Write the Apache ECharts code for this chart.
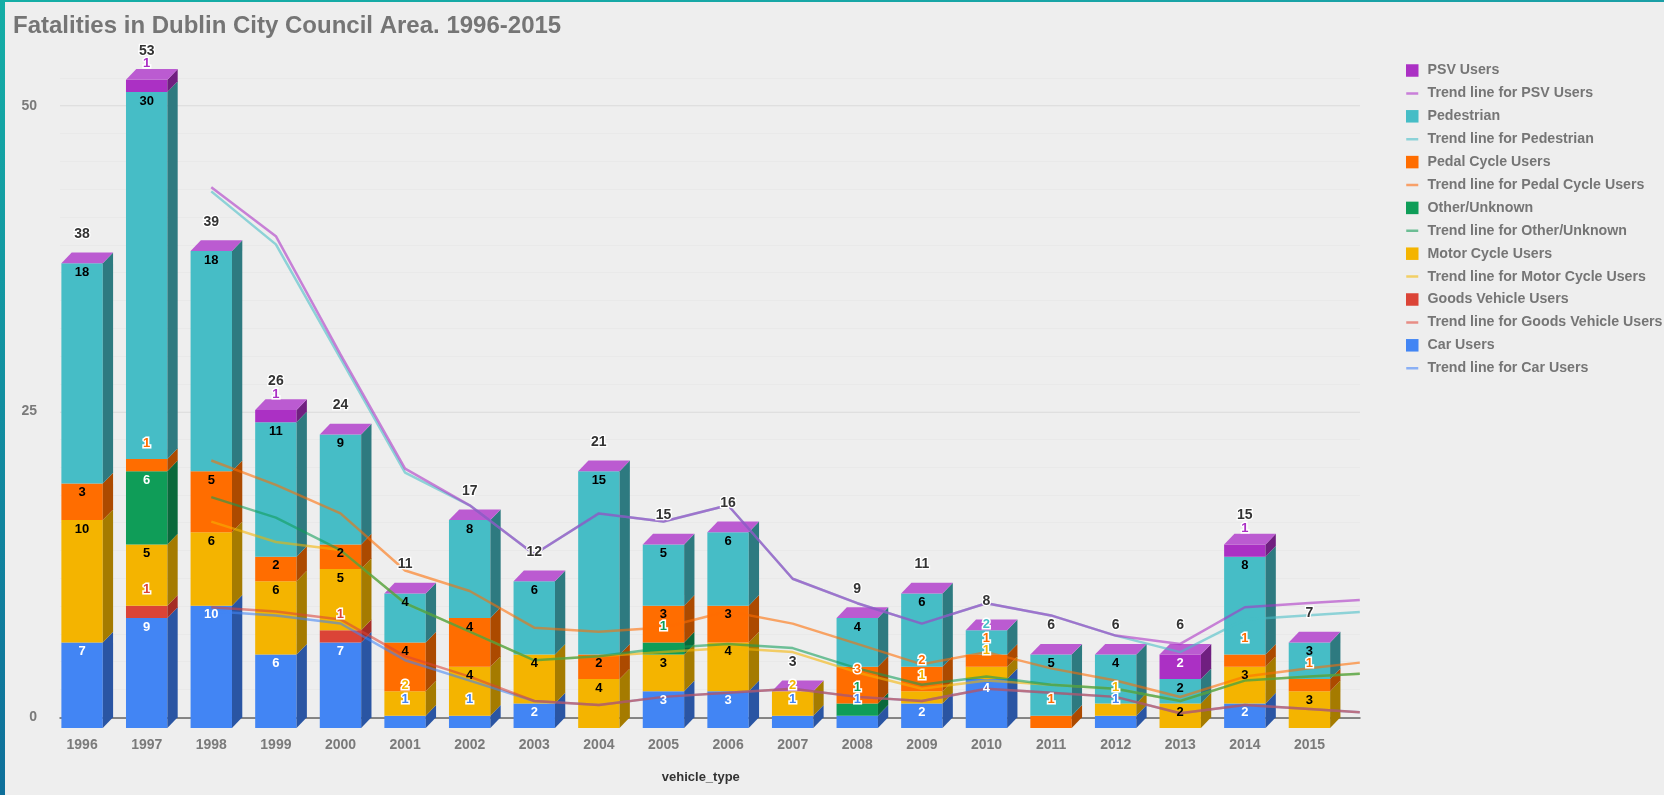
<!DOCTYPE html>
<html>
<head>
<meta charset="utf-8">
<title>Fatalities in Dublin City Council Area</title>
<script src="https://cdn.jsdelivr.net/npm/echarts@6/dist/echarts.min.js"></script>
<style>
html, body { margin: 0; height: 100%; overflow: hidden; }
body {
    background:
        linear-gradient(180deg, #14aea6, #0e6f9a) left top / 5px 100% no-repeat,
        linear-gradient(90deg, #14aea6, #1a9fa6) left top / 100% 2px no-repeat,
        #eeeeee;
}
#main { width: 1664px; height: 795px; }
</style>
</head>
<body>
<div id="main"></div>
<script>
var years = [1996, 1997, 1998, 1999, 2000, 2001, 2002, 2003, 2004, 2005, 2006, 2007, 2008, 2009, 2010, 2011, 2012, 2013, 2014, 2015];

// fatalities per year, stacked bottom to top
var carUsers     = [7, 9, 10, 6, 7, 1, 1, 2, 0, 3, 3, 1, 1, 2, 4, 0, 1, 0, 2, 0];
var goodsVehicle = [0, 1, 0, 0, 1, 0, 0, 0, 0, 0, 0, 0, 0, 0, 0, 0, 0, 0, 0, 0];
var motorCycle   = [10, 5, 6, 6, 5, 2, 4, 4, 4, 3, 4, 2, 0, 1, 1, 0, 1, 2, 3, 3];
var otherUnknown = [0, 6, 0, 0, 0, 0, 0, 0, 0, 1, 0, 0, 1, 0, 0, 0, 0, 0, 0, 0];
var pedalCycle   = [3, 1, 5, 2, 2, 4, 4, 0, 2, 3, 3, 0, 3, 2, 1, 1, 0, 0, 1, 1];
var pedestrian   = [18, 30, 18, 11, 9, 4, 8, 6, 15, 5, 6, 0, 4, 6, 2, 5, 4, 2, 8, 3];
var psvUsers     = [0, 1, 0, 1, 0, 0, 0, 0, 0, 0, 0, 0, 0, 0, 0, 0, 0, 2, 1, 0];
var totals       = [38, 53, 39, 26, 24, 11, 17, 12, 21, 15, 16, 3, 9, 11, 8, 6, 6, 6, 15, 7];

// trend lines, 1998 onward, plus where each one leaves the plot on the right
var trendYears = [1998, 1999, 2000, 2001, 2002, 2003, 2004, 2005, 2006, 2007, 2008, 2009, 2010, 2011, 2012, 2013, 2014, 2015, 2015.78];
var trendCar   = [8.67, 8.33, 7.67, 4.67, 3, 1.33, 1, 1.67, 2, 2.33, 1.67, 1.33, 2.33, 2, 1.67, 0.33, 1, 0.67, 0.42];
var trendGoods = [0.33, 0.33, 0.33, 0.33, 0.33, 0, 0, 0, 0, 0, 0, 0, 0, 0, 0, 0, 0, 0, 0];
var trendMotor = [7, 5.67, 5.67, 4.33, 3.67, 3.33, 4, 3.67, 3.67, 3, 2, 1, 0.67, 0.67, 0.67, 1, 2, 2.67, 3.15];
var trendOther = [2, 2, 0, 0, 0, 0, 0, 0.33, 0.33, 0.33, 0.33, 0.33, 0.33, 0, 0, 0, 0, 0, 0];
var trendPedal = [3, 2.67, 3, 2.67, 3.33, 2.67, 2, 1.67, 2.67, 2, 2, 1.67, 2, 1.33, 0.67, 0.33, 0.33, 0.67, 0.9];
var trendPed   = [22, 19.67, 12.67, 8, 7, 6, 9.67, 8.67, 8.67, 3.67, 3.33, 3.33, 4, 4.33, 3.67, 3.67, 4.67, 4.33, 4.13];
var trendPsv   = [0.33, 0.67, 0.33, 0.33, 0, 0, 0, 0, 0, 0, 0, 0, 0, 0, 0, 0.67, 1, 1, 1];

var yTicks = 25;
var yMinorStep = 25 / 11;
var yMax = 23 * yMinorStep;

var vehicles = [
    {name: 'Car Users', values: carUsers, trend: trendCar, color: '#4285f4', side: '#2a55a3', legendLine: '#8ab0f5', inner: '#fff'},
    {name: 'Goods Vehicle Users', values: goodsVehicle, trend: trendGoods, color: '#db4437', side: '#a52d25', legendLine: '#e78d85', inner: '#000'},
    {name: 'Motor Cycle Users', values: motorCycle, trend: trendMotor, color: '#f4b400', side: '#a57b00', legendLine: '#f2cf66', inner: '#000'},
    {name: 'Other/Unknown', values: otherUnknown, trend: trendOther, color: '#0f9d58', side: '#0a693b', legendLine: '#6cbd94', inner: '#fff'},
    {name: 'Pedal Cycle Users', values: pedalCycle, trend: trendPedal, color: '#ff6d00', side: '#ac4a00', legendLine: '#f8a068', inner: '#000'},
    {name: 'Pedestrian', values: pedestrian, trend: trendPed, color: '#46bdc6', side: '#2e7a80', legendLine: '#8bd2d8', inner: '#000'},
    {name: 'PSV Users', values: psvUsers, trend: trendPsv, color: '#ab30c4', side: '#701f80', legendLine: '#c97fd9', inner: '#fff'}
];

// labels that sit in the bar colour with a white outline even though they are not 1s
var outlined = {'Motor Cycle Users': [2001, 2007], 'Pedal Cycle Users': [2008, 2009], 'Pedestrian': [2010]};
var outlineShift = {1: -16, 2: -6, 3: 3};

var barWidth = 41.4, depthX = 10.3, depthY = 10.7;
var topFace = '#bb5bd1';

var labelFont = 'Liberation Sans, Arial, sans-serif';

function renderBlock(side) {
    return function (params, api) {
        var x = api.coord([api.value(0), 0])[0] - barWidth / 2;
        var yb = api.coord([api.value(0), api.value(1)])[1] + depthY;
        var yt = api.coord([api.value(0), api.value(2)])[1] + depthY;
        var xr = x + barWidth;
        var kids = [
            {type: 'rect', shape: {x: x, y: yt, width: barWidth, height: yb - yt}, style: {fill: api.visual('color')}},
            {type: 'polygon', shape: {points: [[xr, yb], [xr, yt], [xr + depthX, yt - depthY], [xr + depthX, yb - depthY]]}, style: {fill: side}}
        ];
        return {type: 'group', children: kids};
    };
}

function renderTop(params, api) {
    var x = api.coord([api.value(0), 0])[0] - barWidth / 2;
    var yt = api.coord([api.value(0), api.value(1)])[1] + depthY;
    return {
        type: 'polygon',
        shape: {points: [[x, yt], [x + barWidth, yt], [x + barWidth + depthX, yt - depthY], [x + depthX, yt - depthY]]},
        style: {fill: topFace}
    };
}

function renderTotal(params, api) {
    var p = api.coord([api.value(0), api.value(1)]);
    return {
        type: 'text',
        style: {
            x: p[0], y: p[1] + depthY - 29, text: String(api.value(1)), align: 'center', verticalAlign: 'middle',
            font: 'bold 14px ' + labelFont, fill: '#333', stroke: '#fff', lineWidth: 2.5
        }
    };
}

function renderSegLabel(params, api) {
    var p = api.coord([api.value(0), api.value(1)]);
    var item = labelRows[params.dataIndex];
    return {
        type: 'text',
        style: {
            x: p[0], y: p[1] + depthY + item.shift, text: String(api.value(2)), align: 'center', verticalAlign: 'middle',
            font: 'bold 13px ' + labelFont, fill: item.fill,
            stroke: item.halo ? '#fff' : null, lineWidth: item.halo ? 3 : 0
        }
    };
}

var labelRows = [];
var series = [];
var running = years.map(function () { return 0; });

vehicles.forEach(function (v) {
    var rows = [];
    var outs = outlined[v.name] || [];
    years.forEach(function (yr, i) {
        if (!v.values[i]) return;
        var top = running[i] + v.values[i];
        rows.push([yr, running[i], top]);
        var halo = v.values[i] === 1 || outs.indexOf(yr) >= 0;
        labelRows.push({
            value: [yr, top, v.values[i]],
            fill: halo ? v.color : v.inner,
            halo: halo,
            shift: halo ? outlineShift[v.values[i]] : 9
        });
        running[i] = top;
    });
    series.push({
        name: v.name, type: 'custom', z: 2, silent: true,
        itemStyle: {color: v.color},
        renderItem: renderBlock(v.side),
        data: rows
    });
});

series.push({
    name: 'topFaces', type: 'custom', z: 2, silent: true,
    renderItem: renderTop,
    data: years.map(function (yr, i) { return [yr, totals[i]]; })
});

var trendRunning = trendYears.map(function () { return 0; });
vehicles.forEach(function (v) {
    // trend lines are stacked the same way as the bars
    var pts = trendYears.map(function (yr, i) {
        trendRunning[i] += v.trend[i];
        return [yr, trendRunning[i]];
    });
    series.push({
        name: 'Trend line for ' + v.name, type: 'line', z: 3, silent: true,
        showSymbol: false, symbol: 'none',
        itemStyle: {color: v.legendLine},
        lineStyle: {color: v.color, width: 2.5, opacity: 0.58},
        data: pts
    });
});

series.push({
    name: 'segLabels', type: 'custom', z: 5, silent: true,
    renderItem: renderSegLabel,
    data: labelRows.map(function (r) { return r.value; })
});
series.push({
    name: 'totalLabels', type: 'custom', z: 5, silent: true,
    renderItem: renderTotal,
    data: years.map(function (yr, i) { return [yr, totals[i]]; })
});

var lineIcon = 'path://M0 0L1 0L0 0ZM0 5L12 5L12 7.5L0 7.5ZM0 12.5L1 12.5L0 12.5Z';
var legendData = [];
vehicles.slice().reverse().forEach(function (v) {
    legendData.push({name: v.name, icon: 'rect'});
    legendData.push({name: 'Trend line for ' + v.name, icon: lineIcon});
});

var chart = echarts.init(document.getElementById('main'), null, {renderer: 'canvas'});
chart.setOption({
    animation: false,
    backgroundColor: 'transparent',
    textStyle: {fontFamily: labelFont},
    title: {
        text: 'Fatalities in Dublin City Council Area. 1996-2015',
        left: 8, top: 9,
        textStyle: {fontFamily: labelFont, fontWeight: 'bold', fontSize: 24, color: '#757575'}
    },
    legend: {
        orient: 'vertical', left: 1401, top: 58.5,
        itemWidth: 12.5, itemHeight: 12.5, itemGap: 8.9,
        selectedMode: false,
        data: legendData,
        textStyle: {fontFamily: labelFont, fontWeight: 'bold', fontSize: 14.2, color: '#757575', padding: [0, 0, 0, 4]}
    },
    grid: [
        {left: 60, width: 1300, top: 78, height: 639.3},
        {left: 49.8, width: 1292, top: 78, height: 639.3}
    ],
    xAxis: [
        {
            type: 'value', gridIndex: 0, min: 1995.658, max: 2015.783,
            axisLine: {show: true, onZero: true, lineStyle: {color: '#666', width: 1.5}},
            axisTick: {show: false}, axisLabel: {show: false}, splitLine: {show: false}
        },
        {
            type: 'category', gridIndex: 1, data: years,
            name: 'vehicle_type', nameLocation: 'middle', nameGap: 54,
            nameTextStyle: {fontFamily: labelFont, fontWeight: 'bold', fontSize: 13, color: '#333', padding: [0, 0, 0, 10]},
            axisLine: {show: false}, axisTick: {show: false},
            axisLabel: {margin: 21, interval: 0, fontFamily: labelFont, fontWeight: 'bold', fontSize: 14, color: '#7a7a7a'}
        }
    ],
    yAxis: [
        {
            type: 'value', gridIndex: 0, min: 0, max: yMax, interval: yTicks,
            axisLine: {show: false}, axisTick: {show: false},
            axisLabel: {margin: 23, showMaxLabel: false, fontFamily: labelFont, fontWeight: 'bold', fontSize: 14, color: '#7a7a7a'},
            splitLine: {show: true, showMaxLine: false, lineStyle: {color: '#dadada', width: 1.5}}
        },
        {
            type: 'value', gridIndex: 0, min: 0, max: yMax, interval: yMinorStep, position: 'left',
            axisLine: {show: false}, axisTick: {show: false}, axisLabel: {show: false},
            splitLine: {show: true, lineStyle: {color: '#e9e9e9', width: 1}}
        },
        {
            type: 'value', gridIndex: 1, min: 0, max: yMax, show: false
        }
    ],
    series: series
});
</script>
</body>
</html>
